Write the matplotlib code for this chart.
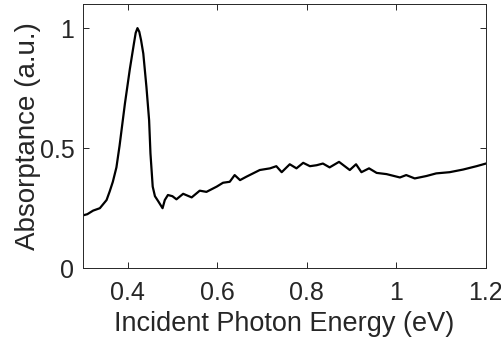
import matplotlib
matplotlib.use("Agg")
import matplotlib.pyplot as plt

energy = [0.300, 0.310, 0.323, 0.338, 0.353, 0.360, 0.367, 0.375, 0.382, 0.394,
          0.405, 0.414, 0.418, 0.422, 0.426, 0.430, 0.435, 0.442, 0.448, 0.451, 0.456, 0.461,
          0.468, 0.478, 0.483, 0.490, 0.500, 0.509, 0.524, 0.543, 0.561, 0.576,
          0.599, 0.613, 0.628, 0.639, 0.651, 0.665, 0.680, 0.695, 0.718, 0.732,
          0.744, 0.762, 0.777, 0.792, 0.807, 0.822, 0.836, 0.851, 0.872, 0.896,
          0.910, 0.922, 0.939, 0.956, 0.978, 1.008, 1.022, 1.041, 1.067, 1.089,
          1.119, 1.149, 1.179, 1.200]
absorptance = [0.22, 0.225, 0.24, 0.25, 0.284, 0.32, 0.36, 0.42, 0.51, 0.686,
               0.83, 0.935, 0.98, 1.0, 0.985, 0.95, 0.894, 0.755, 0.616, 0.478, 0.34, 0.30,
               0.28, 0.25, 0.284, 0.305, 0.30, 0.287, 0.31, 0.295, 0.323, 0.318,
               0.34, 0.356, 0.36, 0.388, 0.367, 0.381, 0.395, 0.409, 0.416, 0.425,
               0.40, 0.433, 0.416, 0.439, 0.425, 0.429, 0.436, 0.42, 0.443, 0.409,
               0.433, 0.40, 0.416, 0.397, 0.392, 0.378, 0.388, 0.374, 0.384, 0.395,
               0.40, 0.411, 0.425, 0.436]

xticks = [0.4, 0.6, 0.8, 1.0, 1.2]
xticklabels = ["0.4", "0.6", "0.8", "1", "1.2"]
yticks = [0, 0.5, 1]
yticklabels = ["0", "0.5", "1"]

plt.rcParams['font.family'] = ['Liberation Sans', 'DejaVu Sans']
fig = plt.figure(figsize=(5.02, 3.43), dpi=100)
ax = fig.add_axes([0.165, 0.218, 0.803, 0.770])
ax.plot(energy, absorptance, color='black', lw=1.6)
ax.set_xlim(0.3, 1.2)
ax.set_ylim(0, 1.1)
ax.set_xticks(xticks)
ax.set_xticklabels(xticklabels)
ax.set_yticks(yticks)
ax.set_yticklabels(yticklabels)
ax.tick_params(direction='in', top=True, right=True, length=4, width=0.7,
               color='#262626', labelsize=18, labelcolor='#262626')
ax.tick_params(axis='x', pad=9.5)
ax.tick_params(axis='y', pad=6)
for s in ax.spines.values():
    s.set_color('#262626')
    s.set_linewidth(0.7)
ax.set_xlabel('Incident Photon Energy (eV)', fontsize=19.5, color='#262626', labelpad=4)
ax.set_ylabel('Absorptance (a.u.)', fontsize=20, color='#262626')
ax.yaxis.set_label_coords(-0.105, 0.5)
fig.savefig('out.png', dpi=100)
